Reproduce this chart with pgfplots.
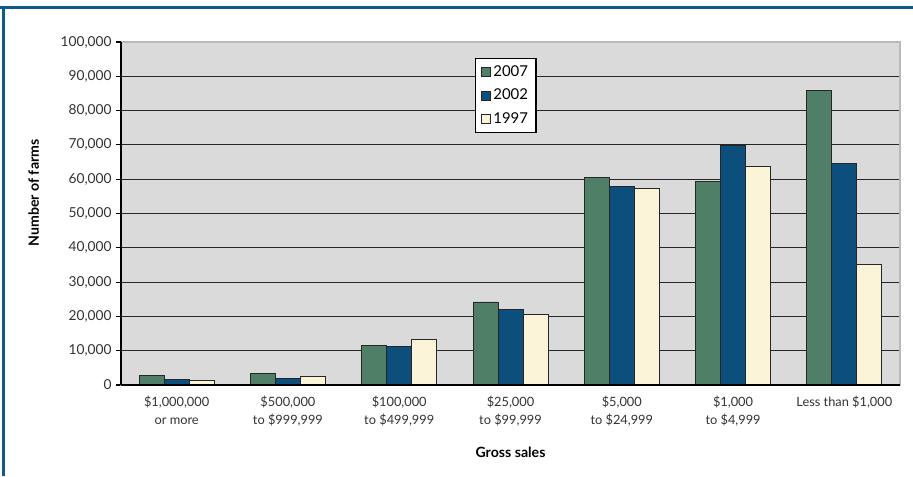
\documentclass[border=0pt]{standalone}
\usepackage{pgfplots}
\pgfplotsset{compat=1.18}
\usepackage{fontspec}
\setmainfont{Lato}

\definecolor{frameblue}{HTML}{0F5A88}
\definecolor{cGreen}{HTML}{4F7F67}
\definecolor{cBlue}{HTML}{0D4F7C}
\definecolor{cCream}{HTML}{FCF4D8}
\definecolor{plotbg}{HTML}{DADADA}

\begin{document}
\begin{tikzpicture}[x=0.75pt,y=0.75pt]
% page area
\path[use as bounding box] (0,0) rectangle (913,476);
% frame on top and left
\draw[frameblue, line width=2.4pt] (0,468.5) -- (913,468.5);
\draw[frameblue, line width=2.4pt] (3.6,0) -- (3.6,469.5);

\begin{axis}[
  at={(90.75pt,68.25pt)}, anchor=south west,
  scale only axis,
  width=584.25pt, height=257.25pt,
  xmin=-0.5, xmax=6.5,
  ymin=0, ymax=100000,
  ybar=0pt, bar width=18.75pt,
  axis background/.style={fill=plotbg},
  axis line style={draw=gray!55, line width=0.8pt},
  tick pos=left,
  xtick={0,...,6},
  xticklabels={{\$1,000,000\\or more},{\$500,000\\to \$999,999},{\$100,000\\to \$499,999},{\$25,000\\to \$99,999},{\$5,000\\to \$24,999},{\$1,000\\to \$4,999},{Less than \$1,000}},
  xticklabel style={align=center, font=\fontsize{9.6pt}{13.7pt}\selectfont, text=black!80, anchor=north, yshift=-1pt},
  x tick style={draw=none},
  extra x ticks={-0.5,0.5,1.5,2.5,3.5,4.5,5.5,6.5},
  extra x tick labels={},
  extra x tick style={grid=none, tick align=outside, major tick length=3.5pt, tick style={draw=black, line width=0.8pt}},
  ytick={0,10000,...,90000},
  extra y ticks={100000},
  extra y tick style={grid=none},
  scaled y ticks=false,
  yticklabel style={
    /pgf/number format/.cd, fixed, 1000 sep={,}, assume math mode=true,
    /tikz/.cd, font=\fontsize{10.3pt}{11pt}\selectfont, text=black!80},
  y tick style={draw=black, line width=0.8pt},
  tick align=outside,
  major tick length=3.5pt,
  ymajorgrids,
  grid style={draw=black!85, line width=0.8pt},
  xlabel={\textbf{Gross sales}},
  xlabel style={font=\fontsize{10.6pt}{12pt}\selectfont, at={(axis description cs:0.5,-0.195)}, anchor=center},
  ylabel={\textbf{Number of farms}},
  ylabel style={font=\fontsize{10.6pt}{12pt}\selectfont, at={(axis description cs:-0.112,0.56)}, anchor=center},
  legend style={at={(0.454,0.953)}, anchor=north west, draw=black, line width=0.9pt,
    fill=white, font=\fontsize{11.2pt}{13pt}\selectfont, inner xsep=4pt, inner ysep=3pt,
    row sep=4.2pt, cells={anchor=west}},
  legend image code/.code={\draw[#1, line width=0.6pt] (0pt,-3.4pt) rectangle (7pt,3.4pt);},
  legend cell align=left,
  clip=false,
]
\addplot[fill=cGreen, draw=black!85, line width=0.7pt] coordinates
  {(0,2900) (1,3300) (2,11500) (3,24200) (4,60400) (5,59200) (6,86000)};
\addplot[fill=cBlue, draw=black!85, line width=0.7pt] coordinates
  {(0,1500) (1,1800) (2,11200) (3,22000) (4,57900) (5,69800) (6,64700)};
\addplot[fill=cCream, draw=black!85, line width=0.7pt] coordinates
  {(0,1400) (1,2400) (2,13300) (3,20500) (4,57400) (5,63800) (6,35200)};
\legend{2007,2002,1997}
% dark axis lines on the left and at the bottom
\draw[black, line width=0.9pt] (rel axis cs:0,0) -- (rel axis cs:0,1);
\draw[black, line width=0.9pt] (rel axis cs:0,0) -- (rel axis cs:1,0);
\end{axis}
\end{tikzpicture}
\end{document}
